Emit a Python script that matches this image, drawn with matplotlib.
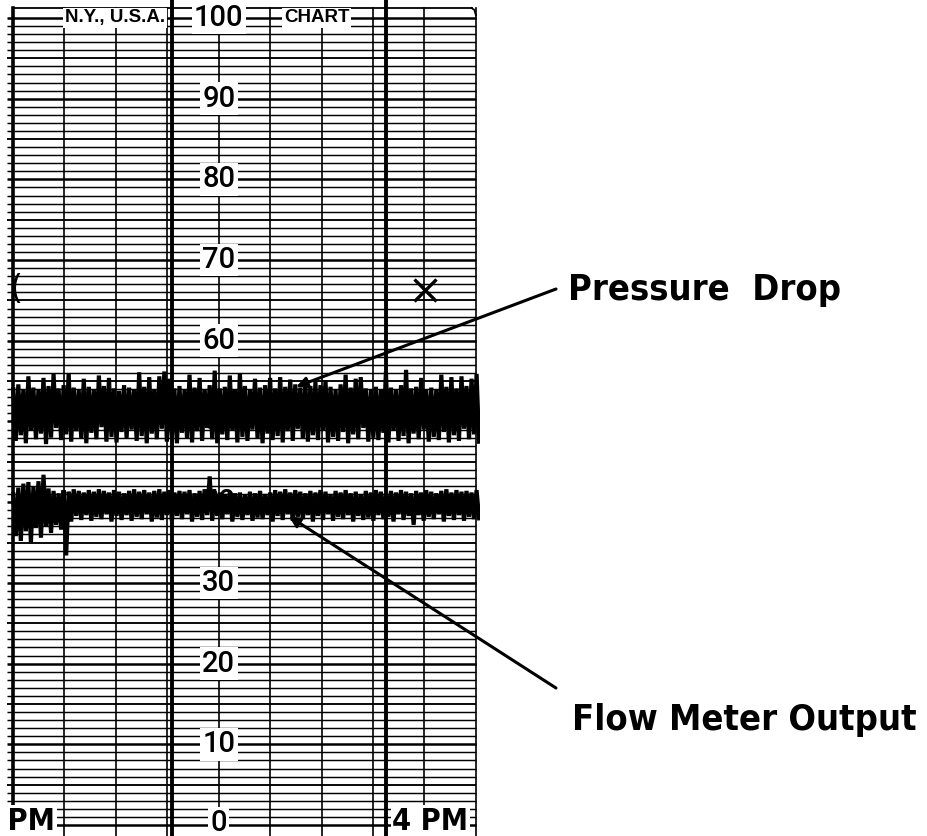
import numpy as np
import matplotlib.pyplot as plt

# Pen traces in chart units (0-100), read as alternating peak / trough values
pressure_hi = [54.0, 54.6, 53.9, 55.6, 54.2, 54.0, 55.4, 54.4, 55.9, 54.1,
               54.5, 56.0, 54.2, 53.9, 55.3, 54.3, 54.0, 55.7, 54.4, 55.4,
               54.1, 53.8, 54.5, 54.2, 54.0, 56.1, 54.3, 55.5, 54.0, 55.6,
               56.2, 55.3, 54.1, 54.4, 53.9, 55.8, 54.2, 55.4, 54.0, 54.5,
               56.3, 54.1, 54.3, 55.7, 54.0, 56.0, 54.4, 53.9, 55.3, 54.2,
               54.5, 55.4, 54.1, 55.5, 54.3, 55.2, 54.6, 54.2, 54.8, 54.4,
               54.9, 54.5, 55.1, 54.3, 54.0, 54.6, 55.8, 54.2, 55.3, 55.5,
               54.1, 53.9, 54.3, 54.0, 56.2, 54.2, 54.0, 54.5, 56.4, 54.1,
               54.3, 55.4, 54.0, 54.2, 53.9, 55.8, 54.3, 55.5, 54.1, 55.6,
               54.4, 55.3, 55.9]
pressure_lo = [47.6, 48.3, 47.3, 48.9, 47.8, 48.5, 47.2, 48.0, 49.2, 47.7,
               48.4, 47.5, 48.8, 47.9, 47.3, 48.6, 47.8, 49.3, 47.5, 48.1,
               47.4, 48.7, 47.9, 49.0, 47.6, 48.2, 47.3, 48.5, 47.8, 49.1,
               47.5, 48.0, 47.3, 48.6, 47.9, 47.4, 48.8, 47.6, 49.2, 47.8,
               47.3, 48.4, 47.7, 48.9, 47.4, 48.1, 47.6, 49.0, 47.9, 47.3,
               48.5, 47.7, 48.2, 47.4, 48.8, 47.6, 49.1, 47.9, 47.5, 48.3,
               47.7, 48.9, 47.4, 48.1, 47.6, 48.7, 47.3, 48.4, 47.8, 49.2,
               47.5, 48.0, 47.7, 48.6, 47.4, 48.9, 47.6, 48.2, 47.3, 48.5,
               47.8, 49.0, 47.5, 48.1, 47.7, 48.7, 47.4, 48.3, 47.6, 49.1,
               47.8, 48.4, 47.5]
flow_hi = [41.0, 41.8, 42.3, 42.5, 41.9, 42.6, 43.4, 41.7, 41.4, 41.1,
           41.5, 41.3, 41.6, 41.4, 41.2, 41.5, 41.3, 41.6, 41.4, 41.2,
           41.5, 41.3, 41.1, 41.4, 41.6, 41.3, 41.5, 41.2, 41.4, 41.6,
           41.3, 41.5, 41.2, 41.4, 41.3, 41.5, 41.1, 41.4, 41.6, 43.2,
           41.4, 41.2, 41.0, 41.3, 41.1, 41.2, 40.9, 41.3, 41.1, 41.4,
           41.0, 41.2, 41.5, 41.3, 41.6, 41.2, 41.5, 41.3, 41.1, 41.4,
           41.2, 41.5, 41.3, 41.0, 41.4, 41.2, 41.5, 41.1, 41.3, 41.0,
           41.4, 41.2, 41.5, 41.3, 41.1, 41.4, 41.2, 41.5, 41.3, 41.1,
           41.4, 41.2, 41.5, 41.3, 41.1, 41.4, 41.6, 41.2, 41.5, 41.3,
           41.4, 41.2, 41.5]
flow_lo = [35.8, 35.2, 36.4, 35.0, 36.8, 35.6, 37.0, 36.2, 37.2, 36.6,
           33.4, 37.6, 38.3, 37.8, 38.4, 37.7, 38.2, 37.9, 38.5, 37.6,
           38.3, 37.8, 38.4, 37.7, 38.2, 37.9, 38.5, 37.6, 38.1, 37.8,
           38.4, 37.7, 38.3, 37.9, 38.5, 37.6, 38.2, 37.8, 38.4, 37.7,
           38.3, 37.9, 38.5, 37.6, 38.2, 37.8, 38.4, 37.7, 38.1, 37.9,
           38.4, 37.6, 38.3, 37.8, 38.5, 37.7, 38.2, 37.9, 38.4, 37.6,
           38.3, 37.8, 38.5, 37.7, 38.2, 37.9, 38.4, 37.6, 38.3, 37.8,
           38.1, 37.7, 38.4, 37.9, 38.2, 37.6, 38.5, 37.8, 38.3, 37.2,
           38.4, 37.7, 38.2, 37.9, 38.5, 37.6, 38.3, 37.8, 38.4, 37.7,
           38.2, 37.9, 38.0]

scale_labels = [0, 10, 20, 30, 40, 50, 60, 70, 80, 90, 100]
hour_lines = [0, 30, 60]              # minutes after 3 PM
hour_labels = ["3 PM", "4 PM"]
hour_label_pos = [3.0, 60.9]
pen_marks = [(7.2, 66.4, "("), (65.5, 66.3, "x")]   # operator marks on the paper

# strip geometry, time in minutes after 3 PM
LEFT, RIGHT = 7.71, 72.6
TOP = 101.24

fig = plt.figure(figsize=(9.27, 8.36), dpi=100)
fig.patch.set_facecolor("white")
ax = fig.add_axes([0, 0, 480 / 927, 1])
ax.set_xlim(5.888, 73.18)
ax.set_ylim(-1.363, 102.23)
ax.axis("off")

# horizontal rulings, one per unit, heavier every 5 and 10
for v in range(0, 101):
    if v % 10 == 0:
        lw = 1.8
    elif v % 5 == 0:
        lw = 1.35
    else:
        lw = 1.05
    ax.plot([LEFT - 0.85, RIGHT], [v, v], color="black", lw=lw, zorder=1,
            solid_capstyle="butt")

# vertical rulings
cols = np.linspace(LEFT, RIGHT, 10)
for i, x in enumerate(cols):
    lw = 2.6 if i == 0 else 1.2
    ax.plot([x, x], [-2, TOP], color="black", lw=lw, zorder=1)
ax.plot([LEFT, RIGHT - 0.6], [TOP, TOP], color="black", lw=1.3, zorder=1)
ax.plot([RIGHT - 0.6, RIGHT - 0.2, RIGHT], [TOP, TOP - 0.25, TOP - 0.9],
        color="black", lw=1.3, zorder=1)

# hour / half-hour time arcs
for h in hour_lines:
    ax.plot([h, h], [-2, 104], color="black", lw=2.8, zorder=2)

# scale figures down the centre column
for v in scale_labels:
    hidden = v in (40, 50)   # these sit under the pen traces
    ax.text(cols[4], v + (0.2 if v == 0 else 0), str(v), ha="center",
            va="center", fontsize=21,
            family=["Roboto", "DejaVu Sans"], weight="medium", zorder=3,
            bbox=None if hidden else
            dict(boxstyle="square,pad=0.08", fc="white", ec="none"))

ax.text(15.0, 100, "N.Y., U.S.A.", ha="left", va="center", fontsize=13.5,
        family=["Liberation Sans", "DejaVu Sans"], weight="bold", zorder=3,
        bbox=dict(boxstyle="square,pad=0.1", fc="white", ec="none"))
ax.text(50.3, 100, "CHART", ha="center", va="center", fontsize=13.5,
        family=["Liberation Sans", "DejaVu Sans"], weight="bold", zorder=3,
        bbox=dict(boxstyle="square,pad=0.1", fc="white", ec="none"))

for x, lab in zip(hour_label_pos, hour_labels):
    ax.text(x, -0.6, lab, ha="left", va="baseline", fontsize=22,
            family="DejaVu Sans", weight="bold", stretch="condensed",
            zorder=3, clip_on=True,
            bbox=dict(boxstyle="square,pad=0.05", fc="white", ec="none"))


def pen_trace(hi, lo, t0, t1):
    n = min(len(hi), len(lo))
    t_hi = np.linspace(t0, t1, n)
    step = t_hi[1] - t_hi[0]
    t = np.empty(2 * n)
    v = np.empty(2 * n)
    t[0::2] = t_hi
    t[1::2] = t_hi + step / 2
    v[0::2] = hi[:n]
    v[1::2] = lo[:n]
    return t, v


t, v = pen_trace(pressure_hi, pressure_lo, 7.75, 72.7)
ax.plot(t, v, color="black", lw=3.0, zorder=5, solid_joinstyle="miter")
t, v = pen_trace(flow_hi, flow_lo, 7.75, 72.7)
ax.plot(t, v, color="black", lw=3.0, zorder=5, solid_joinstyle="miter")

# operator marks
for x, y, m in pen_marks:
    if m == "x":
        ax.plot(x, y, marker="x", ms=16, mew=2.4, color="black", zorder=4)
    else:
        ax.text(x, y, m, ha="left", va="center", fontsize=24, color="black",
                zorder=4)

# callouts
arrow = dict(arrowstyle="-|>", lw=2.2, color="black", mutation_scale=16,
             shrinkA=0, shrinkB=0)
ax.annotate("", xy=(47.4, 54.3), xytext=(556, 547), textcoords="figure pixels",
            arrowprops=arrow, zorder=6)
ax.annotate("", xy=(46.4, 38.25), xytext=(556, 148), textcoords="figure pixels",
            arrowprops=arrow, zorder=6)

label_font = dict(fontsize=26, family="DejaVu Sans", weight="bold",
                  stretch="condensed", va="center", ha="left")
fig.text(568 / 927, 1 - 290 / 836, "Pressure  Drop", **label_font)
fig.text(572 / 927, 1 - 720 / 836, "Flow Meter Output", **label_font)

fig.savefig("out.png", dpi=100)
